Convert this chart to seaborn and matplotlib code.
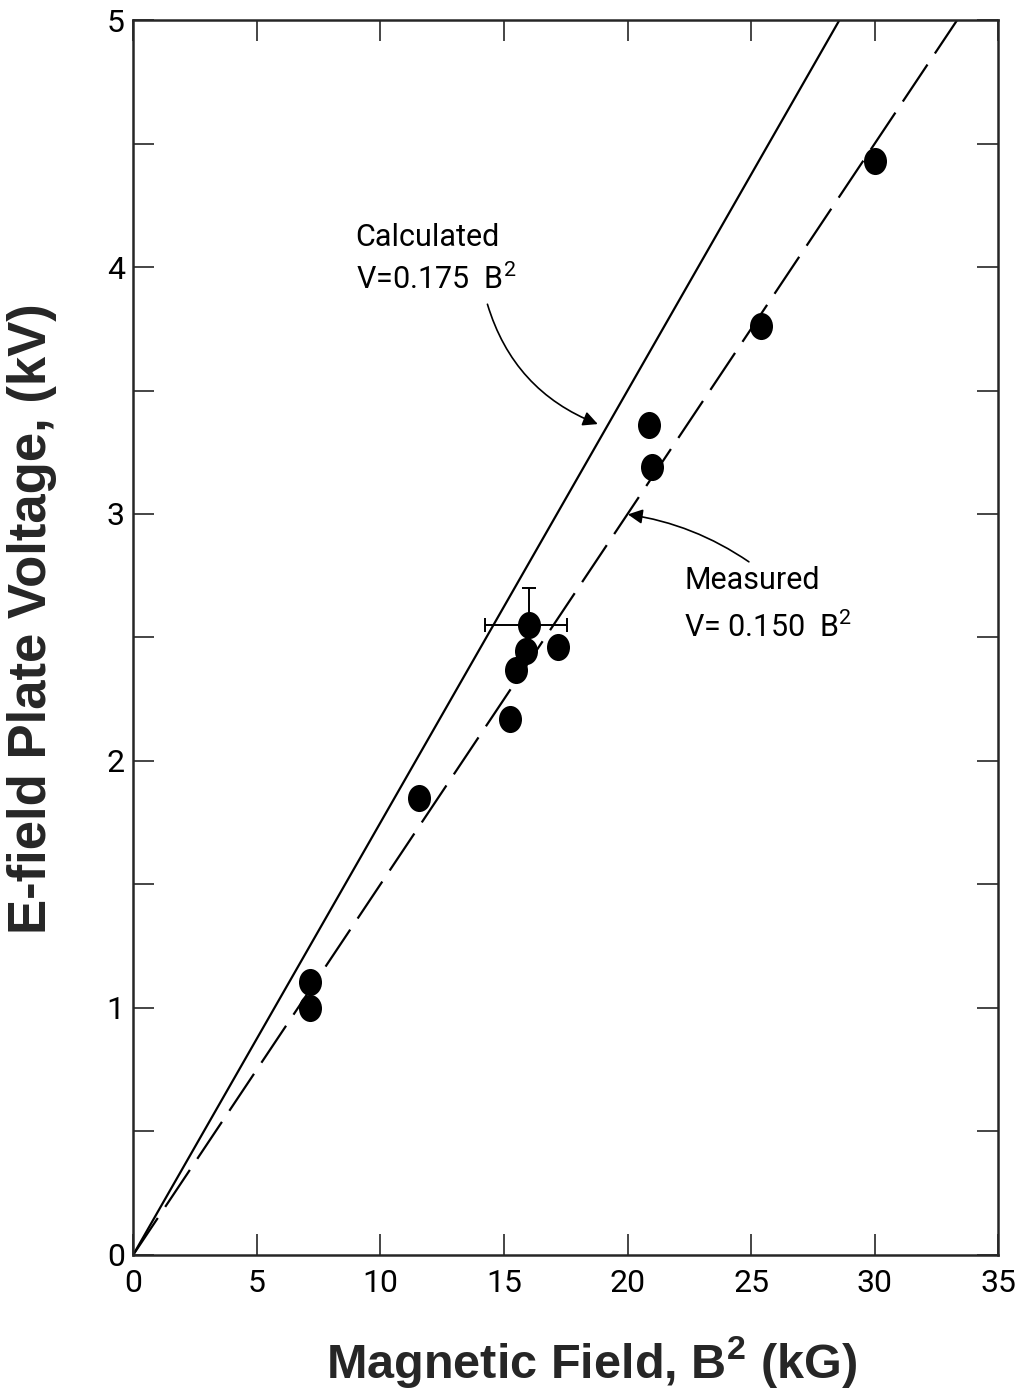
import numpy as np
import pandas as pd
import seaborn as sns
import matplotlib.pyplot as plt
from matplotlib.path import Path
from matplotlib.ticker import MultipleLocator

# Measured points
b_squared = [30.0, 25.4, 20.85, 20.97, 16.03, 15.9, 17.2, 15.47, 15.26, 11.58, 7.17, 7.17]
voltage = [4.43, 3.76, 3.36, 3.19, 2.55, 2.445, 2.46, 2.37, 2.17, 1.85, 1.105, 1.0]

# The one point with error bars
err_x, err_y = 16.03, 2.55
err_x_lo, err_x_hi = 1.8, 1.5
err_y_up = 0.15

# Fit lines V = k * B^2
calc_slope = 0.175
meas_slope = 0.150
line_x = [0, 35]

x_ticks = [0, 5, 10, 15, 20, 25, 30, 35]
y_ticks = [0, 1, 2, 3, 4, 5]

df = pd.DataFrame({'B2': b_squared, 'V': voltage})
lines = pd.DataFrame({'B2': line_x,
                      'calc': [calc_slope * x for x in line_x],
                      'meas': [meas_slope * x for x in line_x]})

sns.set_style('ticks')
plt.rcParams['font.family'] = ['Liberation Sans', 'DejaVu Sans']
plt.rcParams['mathtext.fontset'] = 'custom'
plt.rcParams['mathtext.bf'] = 'Liberation Sans:bold'
plt.rcParams['mathtext.rm'] = 'Roboto'

fig = plt.figure(figsize=(10.24, 14), dpi=100)
ax = fig.add_axes([0.130, 0.1036, 0.845, 0.8821])

# slightly tall ellipse marker like the hand-drawn dots
circ = Path.unit_circle()
ellipse = Path(circ.vertices * np.array([0.85, 1.0]), circ.codes)

sns.lineplot(data=lines, x='B2', y='calc', color='black', lw=1.6, ax=ax)
sns.lineplot(data=lines, x='B2', y='meas', color='black', lw=1.6, ax=ax,
             dashes=False)
ax.lines[-1].set_dashes((20, 6))

ax.errorbar([err_x], [err_y], xerr=[[err_x_lo], [err_x_hi]], yerr=[[0], [err_y_up]],
            fmt='none', ecolor='black', elinewidth=1.4, capsize=5, capthick=1.4)

sns.scatterplot(data=df, x='B2', y='V', marker=ellipse, s=380, color='black',
                edgecolor='black', linewidth=0, ax=ax, zorder=5)

ax.set_xlim(0, 35)
ax.set_ylim(0, 5)
ax.set_xticks(x_ticks)
ax.set_yticks(y_ticks)
ax.yaxis.set_minor_locator(MultipleLocator(0.5))
ax.set_xticklabels([str(t) for t in x_ticks])
ax.set_yticklabels([str(t) for t in y_ticks])

for s in ax.spines.values():
    s.set_linewidth(1.8)
ax.tick_params(which='both', direction='in', length=15, width=1.2,
               top=True, right=True, labelsize=23, pad=6, labelcolor='black')
ax.tick_params(axis='x', pad=10)
for lab in ax.get_xticklabels() + ax.get_yticklabels():
    lab.set_fontfamily(['Roboto', 'DejaVu Sans'])

ax.set_xlabel(r'Magnetic Field, B$^{\mathbf{2}}$ (kG)', fontsize=35,
              fontweight='bold')
ax.set_ylabel('E-field Plate Voltage, (kV)', fontsize=38, fontweight='bold')
ax.xaxis.set_label_coords(0.53, -0.064)
ax.yaxis.set_label_coords(-0.088, 0.515)

txt_kw = dict(fontsize=22, fontfamily=['Roboto', 'DejaVu Sans'], color='black')
ax.text(9.0, 4.12, 'Calculated', ha='left', va='center', **txt_kw)
ax.text(9.0, 3.95, r'V=0.175  B$^{2}$', ha='left', va='center', **txt_kw)
ax.text(22.3, 2.73, 'Measured', ha='left', va='center', **txt_kw)
ax.text(22.3, 2.54, r'V= 0.150  B$^{2}$', ha='left', va='center', **txt_kw)

ax.annotate('', xy=(18.9, 3.36), xytext=(14.3, 3.86),
            arrowprops=dict(arrowstyle='-|>', color='black', lw=1.2,
                            mutation_scale=22, connectionstyle='arc3,rad=0.25'))
ax.annotate('', xy=(19.9, 3.0), xytext=(25.0, 2.80),
            arrowprops=dict(arrowstyle='-|>', color='black', lw=1.2,
                            mutation_scale=22, connectionstyle='arc3,rad=0.12'))

fig.savefig('out.png', dpi=100)
